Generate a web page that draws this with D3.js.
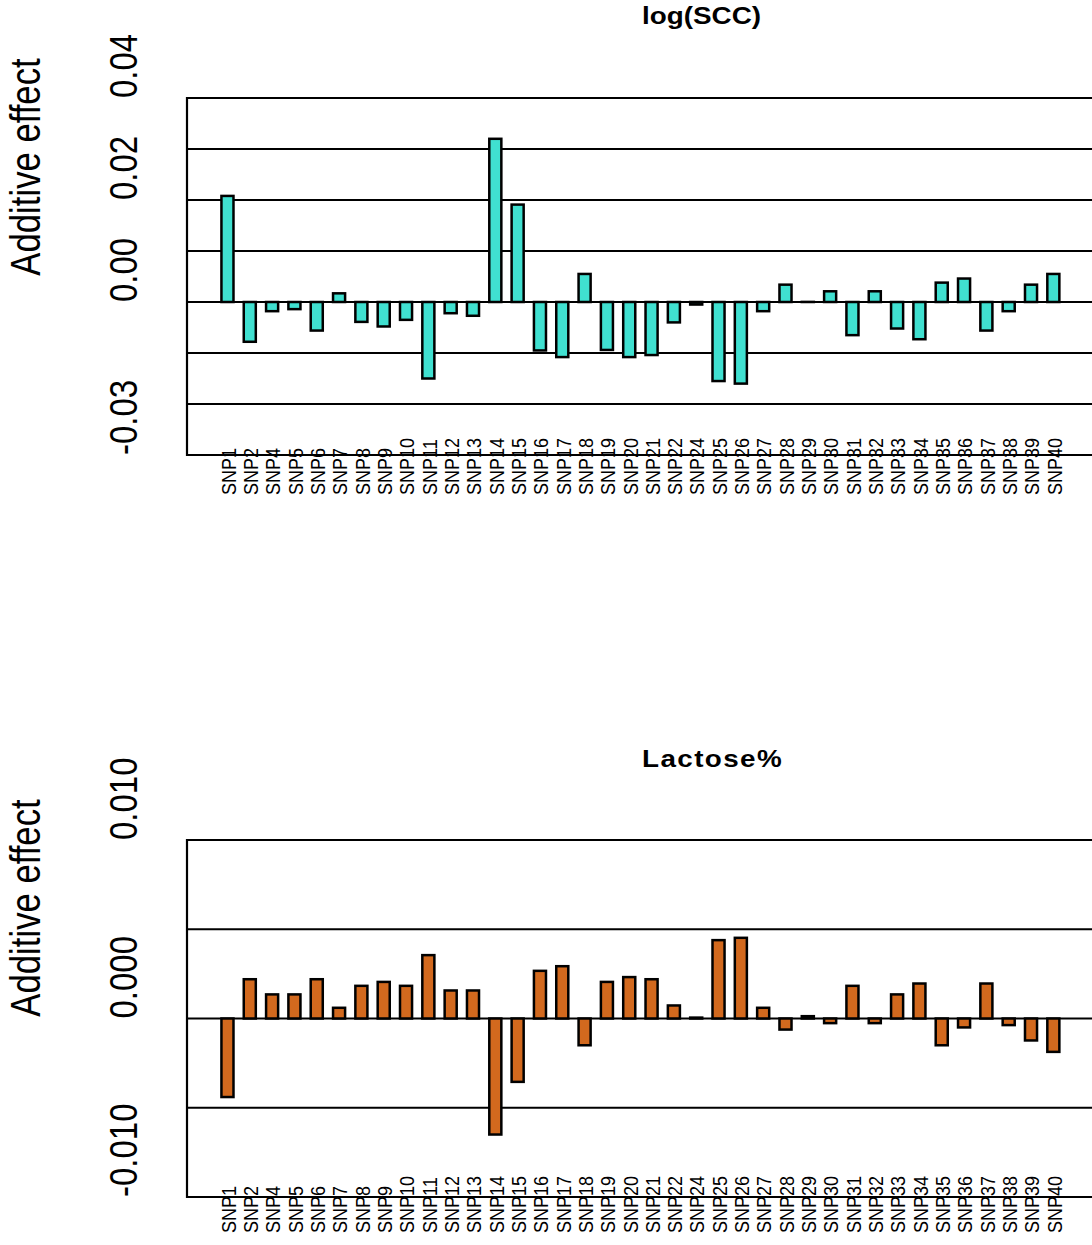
<!DOCTYPE html>
<html>
<head>
<meta charset="utf-8">
<script src="https://cdn.jsdelivr.net/npm/d3@7"></script>
<style>
  html, body { margin: 0; padding: 0; background: #fff; }
  svg { display: block; font-family: "Liberation Sans", Arial, Helvetica, sans-serif; }
</style>
</head>
<body>
<svg id="chart" width="1092" height="1245"></svg>
<script>
// SNP markers (SNP3 and SNP23 are not part of the panel)
const snps = ["SNP1","SNP2","SNP4","SNP5","SNP6","SNP7","SNP8","SNP9","SNP10",
  "SNP11","SNP12","SNP13","SNP14","SNP15","SNP16","SNP17","SNP18","SNP19","SNP20",
  "SNP21","SNP22","SNP24","SNP25","SNP26","SNP27","SNP28","SNP29","SNP30",
  "SNP31","SNP32","SNP33","SNP34","SNP35","SNP36","SNP37","SNP38","SNP39","SNP40"];

// Additive effects on log(SCC)
const sccEffect = [0.0208,-0.0078,-0.0018,-0.0014,-0.0056,0.0017,-0.0039,-0.0048,-0.0035,
  -0.0150,-0.0022,-0.0027,0.0320,0.0191,-0.0095,-0.0108,0.0055,-0.0094,-0.0108,
  -0.0104,-0.0040,-0.0005,-0.0155,-0.0160,-0.0018,0.0034,0.00002,0.0021,
  -0.0065,0.0021,-0.0052,-0.0073,0.0038,0.0046,-0.0056,-0.0018,0.0034,0.0055];

// Additive effects on Lactose%
const lactoseEffect = [-0.0044,0.0022,0.00135,0.00135,0.0022,0.0006,0.00183,0.00205,0.00183,
  0.00355,0.00157,0.00157,-0.0065,-0.00355,0.00267,0.00293,-0.0015,0.00205,0.00232,
  0.0022,0.00073,0.00005,0.00439,0.00452,0.0006,-0.00062,0.00013,-0.00026,
  0.00183,-0.00026,0.00135,0.00196,-0.0015,-0.0005,0.00196,-0.00037,-0.00123,-0.00187];

// Axis ranges and labelled ticks for each trait
const sccDomain = [-0.03, 0.04];
const sccTicks = [0.04, 0.02, 0.00, -0.03];
const sccTickLabels = ["0.04", "0.02", "0.00", "-0.03"];

const lactoseDomain = [-0.010, 0.010];
const lactoseTicks = [0.010, 0.000, -0.010];
const lactoseTickLabels = ["0.010", "0.000", "-0.010"];

const svg = d3.select("#chart");

const x = d3.scaleBand()
  .domain(snps)
  .range([216.3, 1064.5])
  .paddingInner(0.46)
  .paddingOuter(0.23);

function drawPanel(opt) {
  const g = svg.append("g");
  const y = d3.scaleLinear().domain(opt.domain).range([opt.bottom, opt.top]);

  // horizontal grid lines
  g.selectAll("line.grid")
    .data(y.ticks(opt.gridCount))
    .join("line")
    .attr("class", "grid")
    .attr("x1", 187).attr("x2", 1100)
    .attr("y1", d => y(d)).attr("y2", d => y(d))
    .attr("stroke", "#000").attr("stroke-width", 1.8);

  // bars
  g.selectAll("rect.bar")
    .data(opt.values)
    .join("rect")
    .attr("class", "bar")
    .attr("x", (d, i) => x(snps[i]))
    .attr("width", x.bandwidth())
    .attr("y", d => y(Math.max(0, d)))
    .attr("height", d => Math.abs(y(d) - y(0)))
    .attr("fill", opt.fill)
    .attr("stroke", "#000")
    .attr("stroke-width", 2.5);

  // plot frame (open to the right)
  g.append("path")
    .attr("d", `M1100,${opt.top}H187V${opt.bottom}H1100`)
    .attr("fill", "none")
    .attr("stroke", "#000")
    .attr("stroke-width", 2.2);

  // y tick labels, rotated and starting at their value
  g.selectAll("text.ytick")
    .data(opt.ticks)
    .join("text")
    .attr("class", "ytick")
    .attr("transform", d => `translate(137,${y(d)}) rotate(-90) scale(1,1.2)`)
    .attr("text-anchor", "start")
    .attr("font-size", 33)
    .attr("fill", "#000")
    .text((d, i) => opt.tickLabels[i]);

  // y axis title
  g.append("text")
    .attr("transform", `translate(40,${opt.titleY}) rotate(-90) scale(1,1.2)`)
    .attr("text-anchor", "middle")
    .attr("font-size", 34.7)
    .attr("fill", "#000")
    .text("Additive effect");

  // SNP labels
  g.selectAll("text.xlab")
    .data(snps)
    .join("text")
    .attr("class", "xlab")
    .attr("transform", d => `translate(${x(d) + x.bandwidth() / 2},${opt.labelY}) rotate(-90) scale(1,1.15)`)
    .attr("dy", "0.4em")
    .attr("text-anchor", "start")
    .attr("font-size", 18)
    .attr("fill", "#000")
    .text(d => d);

  // panel title
  g.append("text")
    .attr("transform", `translate(642,${opt.headY}) scale(${opt.headScale},1)`)
    .attr("text-anchor", "start")
    .attr("font-size", 24)
    .attr("font-weight", "bold")
    .attr("letter-spacing", opt.headSpacing)
    .attr("fill", "#000")
    .text(opt.title);
}

drawPanel({
  title: "log(SCC)", headY: 24, headScale: 1.16, headSpacing: 0,
  values: sccEffect, domain: sccDomain, ticks: sccTicks, tickLabels: sccTickLabels,
  gridCount: 7, top: 98, bottom: 455, labelY: 495, titleY: 167, fill: "#40E0D0"
});

drawPanel({
  title: "Lactose%", headY: 767, headScale: 1.16, headSpacing: 1.2,
  values: lactoseEffect, domain: lactoseDomain, ticks: lactoseTicks, tickLabels: lactoseTickLabels,
  gridCount: 4, top: 840, bottom: 1197, labelY: 1233, titleY: 908, fill: "#D2691E"
});
</script>
</body>
</html>
